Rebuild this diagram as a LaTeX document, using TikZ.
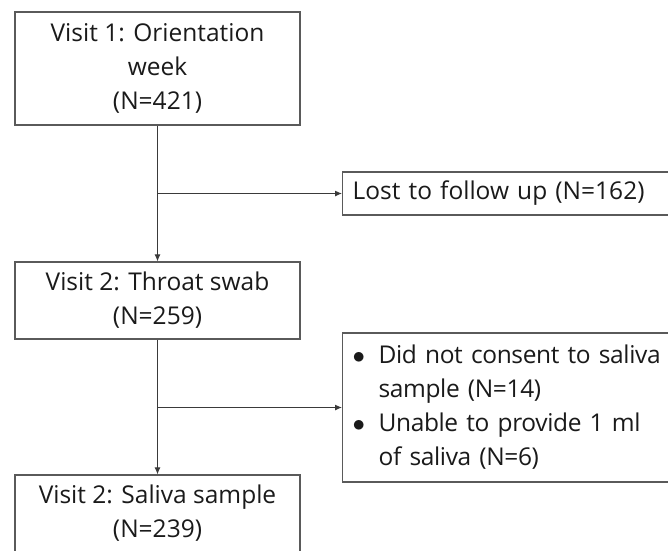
\documentclass[tikz,border=0pt]{standalone}
\usepackage{fontspec}
\setmainfont{Open Sans}
\usetikzlibrary{arrows.meta}
\definecolor{boxline}{HTML}{5A5A5A}
\definecolor{arrline}{HTML}{3A3A3A}
\definecolor{txt}{HTML}{1A1A1A}
\newcommand{\tightfont}{\fontsize{24.5}{34}\selectfont\addfontfeature{LetterSpace=-1.5}\spaceskip=0.2em plus 0.1em\relax}
\tikzset{
visitbox/.style={draw=boxline, line width=1.2pt, rectangle, minimum width=285pt, align=center, text=txt, font=\fontsize{24.5}{34}\selectfont},
sidebox/.style={draw=boxline, line width=1.2pt, rectangle, anchor=west, minimum width=370pt, text width=350pt, inner xsep=10pt, align=left, text=txt, font=\fontsize{24.5}{34}\selectfont},
flow/.style={draw=arrline, line width=1pt, -{Latex[length=7pt,width=6pt]}},
}
\newcommand{\bul}{\makebox[26pt][l]{$\bullet$}}

\begin{document}
\begin{tikzpicture}[x=1pt,y=-1pt]
\useasboundingbox (0,0) rectangle (668,550);
\clip (0,0) rectangle (668,550);

\node[visitbox, minimum height=113pt] (v1) at (157.5,68.5) {Visit 1: Orientation\\week\\(N=421)};
\node[visitbox, minimum height=77pt] (v2) at (157.5,300.5) {Visit 2: Throat swab\\(N=259)};
\node[visitbox, minimum height=77pt] (v3) at (157.5,513.5) {Visit 2: Saliva sample\\(N=239)};

\node[sidebox, minimum height=43pt] (lost) at (342,193.5) {Lost to follow up (N=162)};
\node[sidebox, minimum height=149pt, font=\tightfont] (excl) at (342,407.5) {\bul Did not consent to saliva\\\hspace*{26pt}sample (N=14)\\\bul Unable to provide 1 ml\\\hspace*{26pt}of saliva (N=6)};

% main flow
\draw[flow] (v1.south) -- (v2.north);
\draw[flow] (v2.south) -- (v3.north);

% losses
\coordinate (b1) at (v1.south |- lost.west);
\draw[flow] (b1) -- (lost.west);
\coordinate (b2) at (v2.south |- excl.west);
\draw[flow] (b2) -- (excl.west);

\end{tikzpicture}
\end{document}
